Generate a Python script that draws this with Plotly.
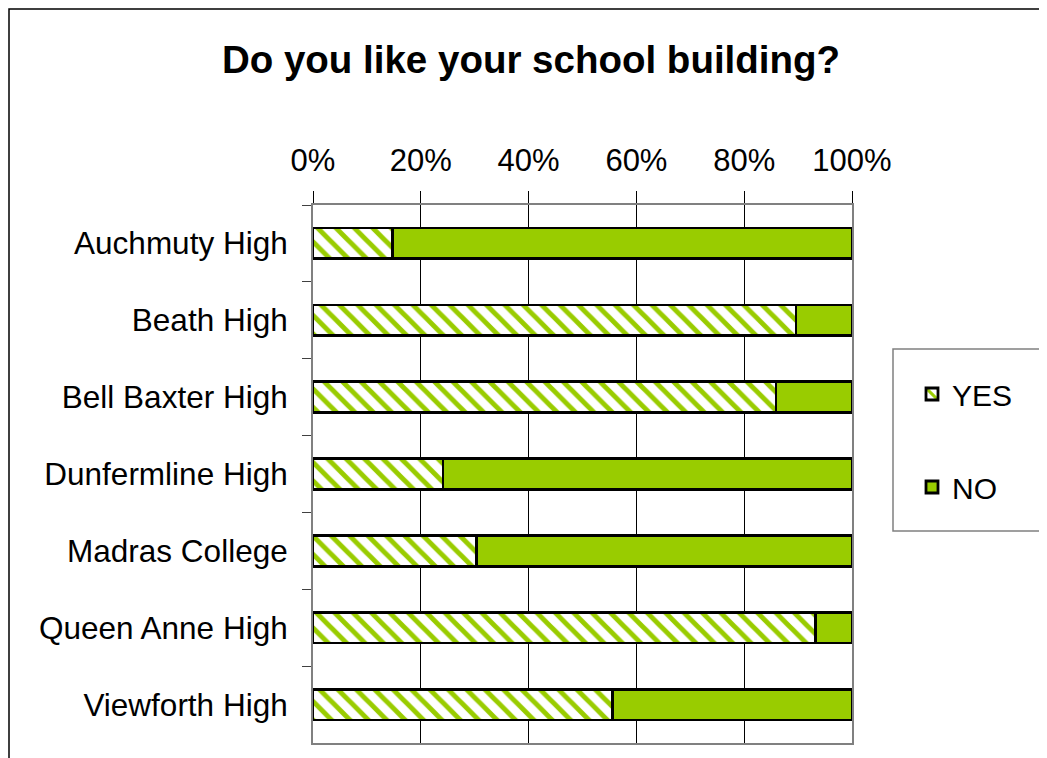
import plotly.graph_objects as go

schools = ["Auchmuty High", "Beath High", "Bell Baxter High", "Dunfermline High",
           "Madras College", "Queen Anne High", "Viewforth High"]
yes_pct = [14.7, 89.6, 85.9, 24.1, 30.4, 93.3, 55.5]
no_pct = [85.3, 10.4, 14.1, 75.9, 69.6, 6.7, 44.5]
x_ticks = [0, 20, 40, 60, 80, 100]
x_tick_labels = ["0%", "20%", "40%", "60%", "80%", "100%"]

GREEN = "#99cc00"
FONT = "Arial, 'Liberation Sans', Helvetica, sans-serif"

# plot area in figure pixels
L, R, T, B = 305, 844, 197, 735
PW, PH = R - L, B - T

def px(x):
    return (x - L) / PW

def py(y):
    return (B - y) / PH

fig = go.Figure()
fig.add_trace(go.Bar(
    y=schools, x=yes_pct, name="YES", orientation="h", legendgroup="yes",
    marker=dict(color="white",
                pattern=dict(shape="\\", fgcolor=GREEN, bgcolor="white", size=13, solidity=0.38, fillmode="replace"),
                line=dict(color="black", width=2.8)),
))
fig.add_trace(go.Bar(
    y=schools, x=no_pct, name="NO", orientation="h", legendgroup="no",
    marker=dict(color=GREEN, line=dict(color="black", width=2.8)),
))

fig.update_layout(
    width=1047, height=758,
    barmode="stack", bargap=0.6,
    paper_bgcolor="white", plot_bgcolor="white",
    margin=dict(l=L, r=1047 - R, t=T, b=758 - B),
    font=dict(family=FONT, size=31, color="black"),
    title=dict(text="<b>Do you like your school building?</b>", x=px(523), xref="paper",
               xanchor="center", y=1 - 52 / 758, yanchor="middle",
               font=dict(family=FONT, size=38.5, color="black")),
    showlegend=True,
    legend=dict(x=px(904), y=py(360), xanchor="left", yanchor="top",
                bgcolor="rgba(0,0,0,0)", borderwidth=0,
                font=dict(family=FONT, size=30, color="black"),
                tracegroupgap=51, itemwidth=30),
    xaxis=dict(side="top", range=[0, 100], tickmode="array", tickvals=x_ticks, ticktext=x_tick_labels,
               showgrid=True, gridcolor="black", gridwidth=1,
               ticks="outside", ticklen=12, tickcolor="black",
               ticklabelstandoff=8,
               showline=True, linecolor="#808080", linewidth=2, mirror=True,
               zeroline=False, fixedrange=True),
    yaxis=dict(autorange="reversed", tickson="boundaries", ticks="outside",
               ticklen=9, tickcolor="#404040", showgrid=False,
               ticklabelstandoff=17, tickfont=dict(size=31.5),
               showline=True, linecolor="#808080", linewidth=2, mirror=True),
    shapes=[
        dict(type="rect", xref="paper", yref="paper",
             x0=px(1), x1=px(1070), y0=py(780), y1=py(1),
             line=dict(color="black", width=1.5), fillcolor="rgba(0,0,0,0)", layer="below"),
        dict(type="rect", xref="paper", yref="paper",
             x0=px(885), x1=px(1037), y0=py(523), y1=py(341),
             line=dict(color="#808080", width=1.5), fillcolor="rgba(0,0,0,0)", layer="below"),
    ],
)

fig.write_html("out.html")
